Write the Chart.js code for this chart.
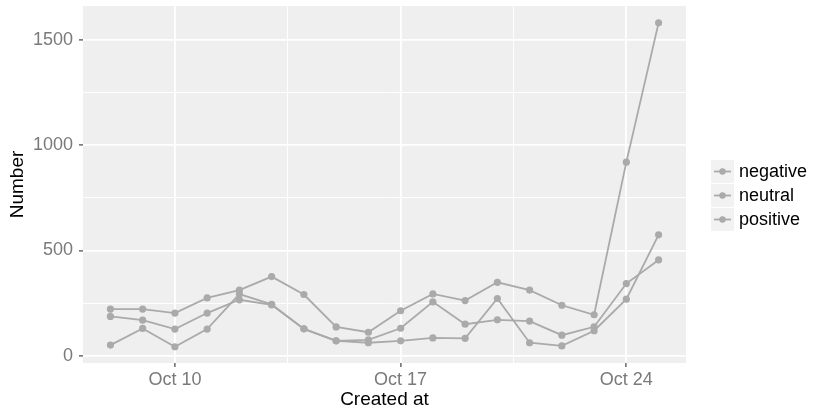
<!DOCTYPE html>
<html>
<head>
<meta charset="utf-8">
<script src="https://cdn.jsdelivr.net/npm/chart.js@4/dist/chart.umd.min.js"></script>
<style>html, body { margin: 0; background: #fff; }</style>
</head>
<body>
<canvas id="sentimentChart" width="817" height="411"></canvas>
<script>
/* Tweets per day by sentiment, ggplot-style look. */

const DAYS = [8, 9, 10, 11, 12, 13, 14, 15, 16, 17, 18, 19, 20, 21, 22, 23, 24, 25];
const NEGATIVE = [222, 222, 203, 275, 312, 376, 291, 137, 112, 214, 294, 262, 349, 312, 240, 195, 919, 1580];
const NEUTRAL  = [187, 169, 127, 203, 266, 242, 128, 71, 76, 131, 256, 150, 171, 165, 98, 138, 343, 455];
const POSITIVE = [51, 130, 43, 127, 293, 244, 128, 71, 62, 71, 85, 83, 272, 62, 47, 119, 269, 574];
const SERIES_NAMES = ["negative", "neutral", "positive"];

const X_TICKS = [10, 17, 24];
const X_TICK_LABELS = ["Oct 10", "Oct 17", "Oct 24"];
const X_MINOR = [13.5, 20.5];
const Y_TICKS = [0, 500, 1000, 1500];
const Y_MINOR = [250, 750, 1250];

const LINE_GREY = "#aaaaaa";
const PANEL_BG = "#efefef";
const FONT = "'Liberation Sans', Arial, Helvetica, sans-serif";

function toPoints(values) {
  return DAYS.map((d, i) => ({ x: d, y: values[i] }));
}

const panelBg = {
  id: "panelBg",
  beforeDraw(chart) {
    const { ctx, chartArea: a } = chart;
    ctx.save();
    ctx.fillStyle = PANEL_BG;
    ctx.fillRect(a.left, a.top, a.right - a.left, a.bottom - a.top);
    ctx.restore();
  }
};

// ggplot-like legend: grey key boxes with a line + dot, then the label
const sideLegend = {
  id: "sideLegend",
  afterDraw(chart) {
    const ctx = chart.ctx;
    const x0 = 711, y0 = 160, size = 23, gap = 1;
    ctx.save();
    chart.data.datasets.forEach((ds, i) => {
      const y = y0 + i * (size + gap);
      ctx.fillStyle = "#f2f2f2";
      ctx.fillRect(x0, y, size, size);
      ctx.strokeStyle = ds.borderColor;
      ctx.lineWidth = 1.8;
      ctx.beginPath();
      ctx.moveTo(x0 + 3, y + size / 2);
      ctx.lineTo(x0 + size - 3, y + size / 2);
      ctx.stroke();
      ctx.fillStyle = ds.borderColor;
      ctx.beginPath();
      ctx.arc(x0 + size / 2, y + size / 2, 3.2, 0, Math.PI * 2);
      ctx.fill();
      ctx.fillStyle = "#000";
      ctx.font = "18px " + FONT;
      ctx.textAlign = "left";
      ctx.textBaseline = "middle";
      ctx.fillText(ds.label, x0 + size + 5, y + size / 2 + 1);
    });
    ctx.restore();
  }
};

function makeDataset(label, values) {
  return {
    label: label,
    data: toPoints(values),
    borderColor: LINE_GREY,
    backgroundColor: LINE_GREY,
    borderWidth: 1.8,
    pointRadius: 3.6,
    pointBorderWidth: 0,
    tension: 0
  };
}

function noEdgePadding(s) {
  s.paddingTop = 0;
  s.paddingBottom = 0;
  s.paddingLeft = 0;
  s.paddingRight = 0;
}

new Chart(document.getElementById("sentimentChart"), {
  type: "line",
  data: {
    datasets: [
      makeDataset(SERIES_NAMES[0], NEGATIVE),
      makeDataset(SERIES_NAMES[1], NEUTRAL),
      makeDataset(SERIES_NAMES[2], POSITIVE)
    ]
  },
  options: {
    responsive: false,
    animation: false,
    devicePixelRatio: 1,
    layout: { padding: { top: 6, right: 131, left: 0, bottom: 0 } },
    plugins: { legend: { display: false }, tooltip: { enabled: false } },
    scales: {
      x: {
        type: "linear",
        min: 7.15,
        max: 25.85,
        afterBuildTicks: (s) => {
          s.ticks = X_TICKS.concat(X_MINOR).sort((a, b) => a - b).map(v => ({ value: v }));
        },
        afterFit: (s) => { s.height = 48; noEdgePadding(s); },
        border: { display: false },
        grid: {
          color: "#ffffff",
          lineWidth: (c) => (X_TICKS.includes(c.tick.value) ? 1.8 : 0.9),
          drawTicks: true,
          tickLength: 4,
          tickWidth: 1.2,
          tickColor: (c) => (X_TICKS.includes(c.tick.value) ? "#444" : "rgba(0,0,0,0)")
        },
        ticks: {
          autoSkip: false,
          maxRotation: 0,
          padding: 2,
          color: "#7a7a7a",
          font: { family: FONT, size: 18 },
          callback: (v) => {
            const i = X_TICKS.indexOf(v);
            return i >= 0 ? X_TICK_LABELS[i] : "";
          }
        },
        title: {
          display: true,
          text: "Created at",
          color: "#000",
          font: { family: FONT, size: 19 },
          padding: { top: 3, bottom: 0 }
        }
      },
      y: {
        type: "linear",
        min: -34,
        max: 1660,
        afterBuildTicks: (s) => {
          s.ticks = Y_TICKS.concat(Y_MINOR).sort((a, b) => a - b).map(v => ({ value: v }));
        },
        afterFit: (s) => { s.width = 83; noEdgePadding(s); },
        border: { display: false },
        grid: {
          color: "#ffffff",
          lineWidth: (c) => (Y_TICKS.includes(c.tick.value) ? 1.8 : 0.9),
          drawTicks: true,
          tickLength: 4,
          tickWidth: 1.2,
          tickColor: (c) => (Y_TICKS.includes(c.tick.value) ? "#444" : "rgba(0,0,0,0)")
        },
        ticks: {
          autoSkip: false,
          padding: 6,
          color: "#7a7a7a",
          font: { family: FONT, size: 18 },
          callback: (v) => (Y_TICKS.includes(v) ? String(v) : "")
        },
        title: {
          display: true,
          text: "Number",
          color: "#000",
          font: { family: FONT, size: 19 },
          padding: { top: 6, bottom: 0 }
        }
      }
    }
  },
  plugins: [panelBg, sideLegend]
});
</script>
</body>
</html>
